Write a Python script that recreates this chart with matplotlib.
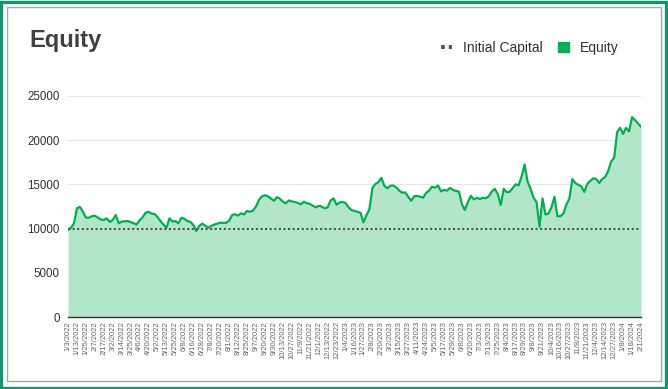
import matplotlib
matplotlib.use("Agg")
import matplotlib.pyplot as plt
from matplotlib.lines import Line2D
from matplotlib.patches import Patch, Rectangle
import numpy as np

plt.rcParams["font.family"] = ["Liberation Sans", "DejaVu Sans"]

# tick labels shown on the x axis (one every 3 points)
tick_labels = [
    "1/3/2022", "1/13/2022", "1/25/2022", "2/7/2022", "2/17/2022", "3/2/2022",
    "3/14/2022", "3/25/2022", "4/6/2022", "4/20/2022", "5/2/2022", "5/13/2022",
    "5/25/2022", "6/8/2022", "6/16/2022", "6/28/2022", "7/8/2022", "7/20/2022",
    "8/1/2022", "8/12/2022", "8/25/2022", "9/7/2022", "9/20/2022", "9/30/2022",
    "10/13/2022", "10/27/2022", "11/9/2022", "11/21/2022", "12/1/2022",
    "12/13/2022", "12/23/2022", "1/4/2023", "1/16/2023", "1/27/2023", "2/8/2023",
    "2/20/2023", "3/2/2023", "3/15/2023", "3/27/2023", "4/11/2023", "4/24/2023",
    "5/5/2023", "5/17/2023", "5/29/2023", "6/8/2023", "6/20/2023", "7/3/2023",
    "7/13/2023", "7/25/2023", "8/4/2023", "8/17/2023", "8/29/2023", "9/8/2023",
    "9/21/2023", "10/4/2023", "10/16/2023", "10/27/2023", "11/8/2023",
    "11/21/2023", "12/4/2023", "12/14/2023", "12/27/2023", "1/8/2024",
    "1/18/2024", "2/1/2024",
]
tick_step = 3

equity = [
    9840, 10100, 10600, 12300, 12450, 11900, 11250, 11230, 11400, 11450,
    11250, 11030, 10980, 11160, 10750, 10970, 11540, 10600, 10800, 10820,
    10850, 10740, 10600, 10480, 10930, 11280, 11800, 11900, 11700, 11650,
    11300, 10850, 10450, 10100, 11160, 10800, 10850, 10600, 11230, 11100,
    10850, 10760, 10410, 9730, 10300, 10560, 10330, 10100, 10300, 10450,
    10560, 10660, 10650, 10650, 10900, 11550, 11620, 11470, 11730, 11600,
    12000, 11900, 12050, 12500, 13250, 13650, 13780, 13650, 13400, 13150,
    13560, 13380, 13040, 12870, 13180, 13080, 13000, 12900, 12750, 13040,
    12880, 12800, 12600, 12400, 12580, 12500, 12300, 12400, 13200, 13420,
    12700, 12950, 13020, 12900, 12400, 12100, 12000, 11900, 11800, 10710,
    11500, 12200, 14600, 15050, 15250, 15750, 14850, 14560, 14850, 14880,
    14650, 14300, 14050, 14100, 13600, 13150, 13650, 13700, 13600, 13500,
    14050, 14300, 14740, 14630, 14880, 14200, 14370, 14300, 14600, 14370,
    14260, 14180, 12750, 12100, 13000, 13700, 13300, 13480, 13350, 13490,
    13430, 13650, 14200, 14500, 13900, 12670, 14500, 14100, 14170, 14580,
    15000, 14900, 15900, 17250, 15300, 14500, 13500, 13000, 10210, 13400,
    11600, 11700, 12400, 13600, 11400, 11400, 11700, 12700, 13400, 15600,
    15150, 14950, 14780, 14150, 15050, 15390, 15680, 15620, 15150, 15620,
    15850, 16500, 17600, 18000, 20900, 21400, 20700, 21400, 21000, 22600,
    22280, 21900, 21520,
]
initial_capital = 10000
y_ticks = [0, 5000, 10000, 15000, 20000, 25000]

line_color = "#00b050"
fill_color = "#b3e6c8"

fig = plt.figure(figsize=(6.68, 3.89), dpi=100)
W, H = 668, 389

# frame: outer green border and inner grey card
fig.patches.append(Rectangle((1.2 / W, 1.2 / H), 1 - 3 / W, 1 - 3 / H, transform=fig.transFigure,
                             fill=False, edgecolor="#16946f", linewidth=2.4))
fig.patches.append(Rectangle((7 / W, 8 / H), 1 - 14 / W, 1 - 15 / H, transform=fig.transFigure,
                             fill=False, edgecolor="#a6a6a6", linewidth=1.0))

ax = fig.add_axes([68 / W, 1 - 317 / H, 573 / W, 221 / H])

x = np.arange(len(equity))
ax.fill_between(x, 0, equity, color=fill_color, linewidth=0)
ax.plot(x, equity, color=line_color, linewidth=1.6)
ax.plot([x[0], x[-1]], [initial_capital, initial_capital], color="#555555",
        linewidth=1.5, linestyle=(0, (1, 1.2)))

ax.set_xlim(0, len(equity) - 1)
ax.set_ylim(0, 25000)
ax.set_yticks(y_ticks, labels=[str(v) for v in y_ticks])
ax.set_xticks(np.arange(0, len(equity), tick_step), labels=tick_labels, rotation=90)
ax.tick_params(axis="x", length=0, pad=3, labelsize=5.5, labelcolor="#666666")
ax.tick_params(axis="y", length=0, pad=6, labelsize=8.3, labelcolor="#333333")
ax.grid(axis="y", color="#e6e6e6", linewidth=0.8)
ax.set_axisbelow(True)
for side in ("left", "right", "top"):
    ax.spines[side].set_visible(False)
ax.spines["bottom"].set_color("#333333")
ax.spines["bottom"].set_linewidth(1.0)
ax.spines["bottom"].set_zorder(5)

fig.text(29 / W, 1 - 47 / H, "Equity", fontsize=17, fontweight="bold", color="#404040")

handles = [
    Line2D([0], [0], color="#555555", linewidth=2.8, linestyle=(0, (1, 1))),
    Patch(facecolor=line_color, edgecolor=line_color),
]
fig.legend(handles, ["Initial Capital", "Equity"], loc="center right",
           bbox_to_anchor=(619 / W, 1 - 48 / H), ncol=2, frameon=False,
           fontsize=10, handlelength=0.8, handleheight=0.75, handletextpad=0.8,
           columnspacing=1.1, borderpad=0, borderaxespad=0, labelcolor="#333333")

fig.savefig("out.png", dpi=100)
